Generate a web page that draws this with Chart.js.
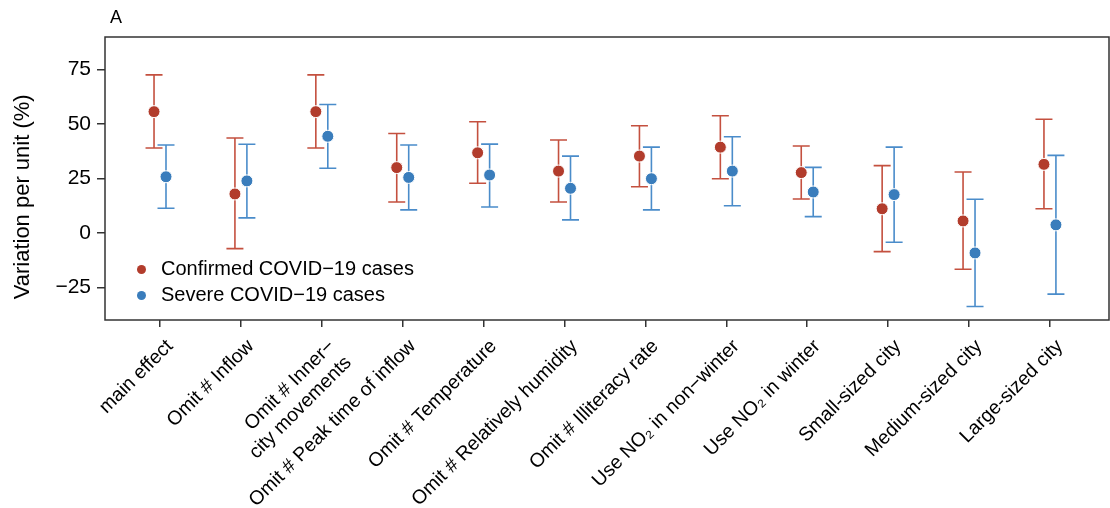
<!DOCTYPE html>
<html>
<head>
<meta charset="utf-8">
<script src="https://cdn.jsdelivr.net/npm/chart.js@4.4.1/dist/chart.umd.min.js"></script>
<style>
  body { margin: 0; background: #fff; }
  #wrap { position: relative; width: 1110px; height: 508px; font-family: "Liberation Sans", Arial, sans-serif; }
  #panel { position: absolute; left: 110px; top: 8px; font-size: 18px; line-height: 1; color: #000; }
  #legend { position: absolute; left: 137px; top: 255px; font-size: 20px; color: #000; }
  .leg-row { height: 26px; line-height: 26px; white-space: nowrap; }
  .leg-dot { display: inline-block; width: 9px; height: 9px; border-radius: 50%; margin: 0 15px 0 0; vertical-align: middle; }
</style>
</head>
<body>
<div id="wrap">
  <canvas id="chart" width="1110" height="508"></canvas>
  <div id="panel">A</div>
  <div id="legend"></div>
</div>
<script>
// 类别 (x 轴标签)
const categories = [
  'main effect',
  'Omit # Inflow',
  ['Omit # Inner\u2212', 'city movements'],
  'Omit # Peak time of inflow',
  'Omit # Temperature',
  'Omit # Relatively humidity',
  'Omit # Illiteracy rate',
  'Use NO\u2082 in non\u2212winter',
  'Use NO\u2082 in winter',
  'Small-sized city',
  'Medium-sized city',
  'Large-sized city'
];

// Confirmed COVID-19 cases
const confirmedMean = [55.7, 17.9, 55.7, 30.0, 36.8, 28.4, 35.3, 39.4, 27.7, 11.1, 5.5, 31.5];
const confirmedLow  = [39.0, -7.2, 39.0, 14.2, 22.8, 14.2, 21.2, 24.9, 15.6, -8.6, -16.7, 11.1];
const confirmedHigh = [72.6, 43.6, 72.6, 45.7, 51.1, 42.7, 49.2, 53.8, 39.9, 30.9, 28.0, 52.2];

// Severe COVID-19 cases
const severeMean = [25.8, 23.9, 44.4, 25.5, 26.6, 20.5, 24.9, 28.4, 18.8, 17.6, -9.2, 3.7];
const severeLow  = [11.3, 6.9, 29.7, 10.6, 11.9, 6.0, 10.6, 12.5, 7.5, -4.3, -33.8, -28.1];
const severeHigh = [40.4, 40.7, 59.0, 40.4, 40.8, 35.3, 39.4, 44.2, 30.1, 39.4, 15.5, 35.6];

// 刻度
const yTicks = [-25, 0, 25, 50, 75];

const FONT = '"Liberation Sans", Arial, sans-serif';
const RED = '#b23c2c', RED_BAR = '#c4503f';
const BLUE = '#3a7dbc', BLUE_BAR = '#4a8cca';
const OFFSET = 0.074;

function toPoints(mean, low, high, shift) {
  return mean.map((m, i) => ({ x: i + 1 + shift, y: m, low: low[i], high: high[i] }));
}

// 误差线
const errorBars = {
  id: 'errorBars',
  beforeDatasetsDraw(chart) {
    const { ctx, scales: { x, y } } = chart;
    ctx.save();
    ctx.lineWidth = 1.6;
    chart.data.datasets.forEach(ds => {
      ctx.strokeStyle = ds.barColor;
      ds.data.forEach(p => {
        const px = x.getPixelForValue(p.x);
        const top = y.getPixelForValue(p.high);
        const bot = y.getPixelForValue(p.low);
        ctx.beginPath();
        ctx.moveTo(px, top); ctx.lineTo(px, bot);
        ctx.moveTo(px - 8.5, top); ctx.lineTo(px + 8.5, top);
        ctx.moveTo(px - 8.5, bot); ctx.lineTo(px + 8.5, bot);
        ctx.stroke();
      });
    });
    ctx.restore();
  }
};

// 外框
const frame = {
  id: 'frame',
  afterDraw(chart) {
    const { ctx, chartArea: a } = chart;
    ctx.save();
    ctx.strokeStyle = '#333';
    ctx.lineWidth = 1.5;
    ctx.strokeRect(a.left, a.top, a.right - a.left, a.bottom - a.top);
    ctx.restore();
  }
};

const datasets = [
  {
    label: 'Confirmed COVID\u221219 cases',
    data: toPoints(confirmedMean, confirmedLow, confirmedHigh, -OFFSET),
    backgroundColor: RED, borderColor: '#fff', borderWidth: 1,
    pointRadius: 6, barColor: RED_BAR
  },
  {
    label: 'Severe COVID\u221219 cases',
    data: toPoints(severeMean, severeLow, severeHigh, OFFSET),
    backgroundColor: BLUE, borderColor: '#fff', borderWidth: 1,
    pointRadius: 6, barColor: BLUE_BAR
  }
];

new Chart(document.getElementById('chart'), {
  type: 'scatter',
  data: { datasets },
  plugins: [errorBars, frame],
  options: {
    responsive: false,
    animation: false,
    layout: { autoPadding: false, padding: { top: 37, right: 1, left: 0, bottom: 0 } },
    plugins: { legend: { display: false }, tooltip: { enabled: false } },
    scales: {
      x: {
        type: 'linear',
        min: 0.32, max: 12.73,
        afterBuildTicks: axis => { axis.ticks = categories.map((c, i) => ({ value: i + 1 })); },
        afterFit: axis => { axis.height = 188; axis.paddingLeft = 0; axis.paddingRight = 0; },
        grid: { drawOnChartArea: false, tickLength: 7, color: '#333', lineWidth: 1.5 },
        border: { display: false },
        ticks: {
          autoSkip: false, minRotation: 45, maxRotation: 45, padding: 8, labelOffset: 10,
          color: '#000', font: { family: FONT, size: 19.5 },
          callback: (v, i) => categories[i]
        }
      },
      y: {
        min: -40, max: 90,
        afterBuildTicks: axis => { axis.ticks = yTicks.map(v => ({ value: v })); },
        afterFit: axis => { axis.width = 105; },
        grid: { drawOnChartArea: false, tickLength: 8, color: '#333', lineWidth: 1.5 },
        border: { display: false },
        title: { display: true, text: 'Variation per unit (%)      ', color: '#000', font: { family: FONT, size: 22 }, padding: { top: 10, bottom: 0 } },
        ticks: {
          color: '#000', padding: 6, font: { family: FONT, size: 21 },
          callback: v => v < 0 ? '\u2212' + Math.abs(v) : String(v)
        }
      }
    }
  }
});

// 图例
document.getElementById('legend').innerHTML = datasets.map(ds => `
  <div class="leg-row"><span class="leg-dot" style="background:${ds.backgroundColor}"></span>${ds.label}</div>
`).join('');
</script>
</body>
</html>
